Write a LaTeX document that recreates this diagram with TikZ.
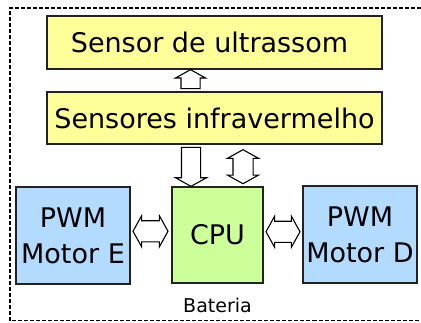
\documentclass[tikz,border=0pt]{standalone}
\usepackage{fontspec}
\setmainfont{DejaVu Sans}
\usetikzlibrary{shapes.arrows,calc}
\definecolor{yfill}{HTML}{FFFF99}
\definecolor{bfill}{HTML}{B3DAFF}
\definecolor{gfill}{HTML}{CCFF99}
\definecolor{edge}{HTML}{222222}
\tikzset{
  blk/.style={draw=edge, line width=1.4pt, inner sep=0pt, align=center,
    font=\fontsize{27}{36}\selectfont},
  ybox/.style={blk, fill=yfill},
  bbox/.style={blk, fill=bfill, minimum width=114pt, minimum height=97pt},
  gbox/.style={blk, fill=gfill, minimum width=91pt, minimum height=96pt},
  uparrow/.style={single arrow, draw=black, fill=white, line width=1.1pt, inner xsep=0pt, inner ysep=9pt,
    single arrow head extend=5.5pt, single arrow tip angle=122},
  dblarrow/.style={double arrow, draw=black, fill=white, line width=1.1pt, inner xsep=0pt, inner ysep=9.5pt,
    double arrow head extend=5pt, double arrow tip angle=122},
}
\begin{document}
\begin{tikzpicture}[x=1pt,y=-1pt]
\useasboundingbox (0,0) rectangle (421,322);
\draw[line width=1.1pt, dash pattern=on 4pt off 2pt] (421,8) -- (10,8) -- (10,320.5) -- (421,320.5);
\node[ybox, minimum width=335pt, minimum height=53pt] (ultra) at (214.5,42.5) {Sensor de ultrassom\hspace{10pt}};
\node[ybox, minimum width=335pt, minimum height=52pt] (infra) at (214.5,118) {Sensores infravermelho};
\node[bbox] (motorE) at (73,235.5) {PWM\\Motor E};
\node[gbox] (cpu) at (217.5,235) {CPU};
\node[bbox] (motorD) at (360,234.5) {PWM\\Motor D};
\node[font=\fontsize{19}{22}\selectfont, inner sep=0pt] (bat) at (217.5,305.5) {Bateria};
% arrows between the blocks
\node[uparrow, rotate=90, minimum height=19pt] (a1) at ($(infra.north)+(-24,-9.5)$) {};
\node[uparrow, rotate=-90, minimum height=39pt, single arrow head extend=6pt] (a2) at ($(infra.south)+(-23.5,19.5)$) {};
\node[dblarrow, rotate=90, minimum height=34pt, double arrow head extend=5.5pt] (a3) at ($(infra.south)+(28.5,22)$) {};
\node[dblarrow, minimum height=35pt, inner ysep=10pt] (a4) at ($(motorE.east)!0.5!(cpu.west)+(-0.5,-4)$) {};
\node[dblarrow, minimum height=34pt, inner ysep=10pt] (a5) at ($(cpu.east)!0.5!(motorD.west)+(0,-3)$) {};
\end{tikzpicture}
\end{document}
